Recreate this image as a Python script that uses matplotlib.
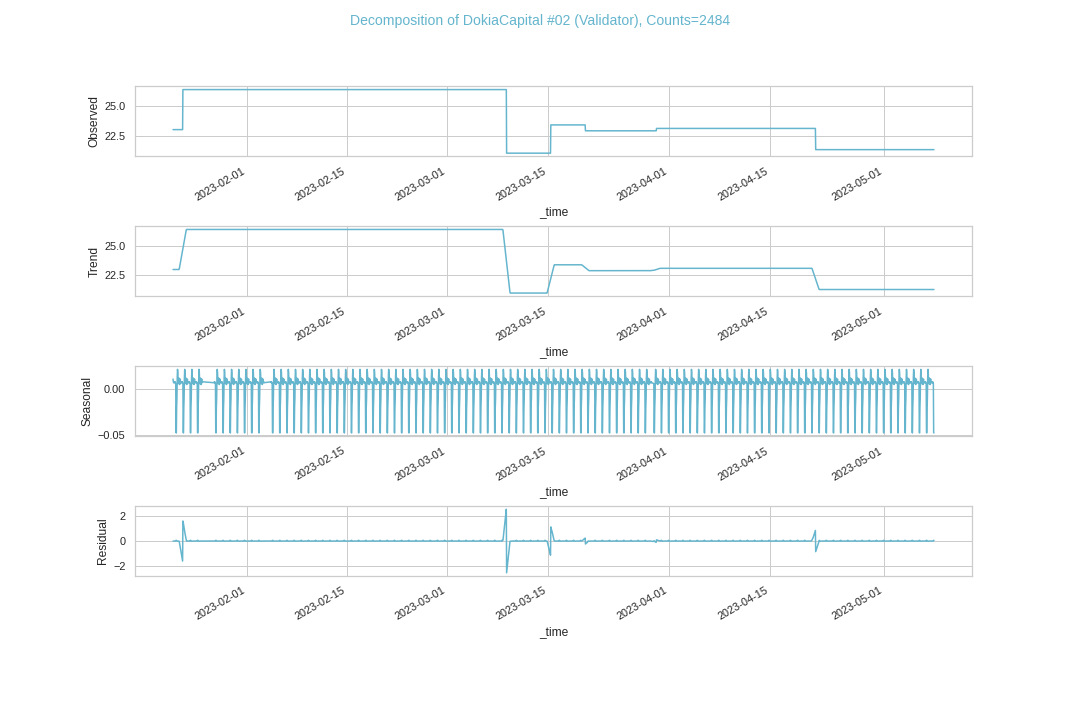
import numpy as np
import pandas as pd
import matplotlib
matplotlib.use('Agg')
import matplotlib.pyplot as plt
import matplotlib.dates as mdates
from matplotlib.ticker import MultipleLocator
import seaborn as sns

sns.set_theme(style='whitegrid')
plt.rcParams['font.family'] = ['Liberation Sans', 'DejaVu Sans']

# hourly samples, 2484 of them, with three gaps in the record
start = '2023-01-21 18:00'
counts = 2484
gap_starts = ['2023-01-25 22:00', '2023-02-03 12:00', '2023-03-29 14:00']
gap_ends = ['2023-01-27 10:00', '2023-02-04 09:00', '2023-03-29 19:00']

level_dates = ['2023-01-21 18:00', '2023-01-23 03:00', '2023-03-09 07:00',
               '2023-03-15 11:00', '2023-03-20 07:00', '2023-03-30 05:00',
               '2023-04-21 10:00']
level_values = [23.0, 26.4, 21.0, 23.4, 22.9, 23.1, 21.3]

# seasonal component, one 24-point cycle (period = 24)
season_profile = [0.007, 0.006, -0.047, -0.0475, -0.020, -0.010, 0.012, 0.0215,
                  0.018, 0.008, 0.006, 0.010, 0.012, 0.008, 0.005, 0.009,
                  0.011, 0.008, 0.007, 0.008, 0.007, 0.008, 0.007, 0.008]
season_offset = 16

# time index
hours = pd.date_range(start, periods=counts + 200, freq='h')
keep = np.ones(len(hours), dtype=bool)
for s, e in zip(gap_starts, gap_ends):
    keep &= ~((hours >= pd.Timestamp(s)) & (hours <= pd.Timestamp(e)))
times = hours[keep][:counts]

# components
idx = np.searchsorted(pd.to_datetime(level_dates), times, side='right') - 1
observed = np.array(level_values)[idx]
seasonal = np.array(season_profile)[(np.arange(counts) + season_offset) % 24]

# centred 2x24 moving average for the trend, ends filled with edge values
w = np.r_[0.5, np.ones(23), 0.5] / 24
trend = np.convolve(observed, w, mode='valid')
trend = np.r_[np.full(12, trend[0]), trend, np.full(12, trend[-1])]
resid = observed - trend - seasonal

fig, axes = plt.subplots(4, 1, figsize=(15, 10), dpi=72)
fig.subplots_adjust(top=0.88, bottom=0.2, hspace=1.0)

series = [observed, trend, seasonal, resid]
names = ['Observed', 'Trend', 'Seasonal', 'Residual']
steps = [2.5, 2.5, 0.05, 2]
for ax, y, name, st in zip(axes, series, names, steps):
    ax.plot(times, y, color='c', lw=1.5)
    ax.set_ylabel(name)
    ax.set_xlabel('_time')
    ax.yaxis.set_major_locator(MultipleLocator(st))
    ax.xaxis.set_major_locator(mdates.DayLocator(bymonthday=[1, 15]))
    ax.xaxis.set_major_formatter(mdates.DateFormatter('%Y-%m-%d'))
    plt.setp(ax.get_xticklabels(), rotation=30, ha='right')

fig.suptitle('Decomposition of DokiaCapital #02 (Validator), Counts=2484',
             color='c', fontsize=14)
fig.savefig('out.png')
